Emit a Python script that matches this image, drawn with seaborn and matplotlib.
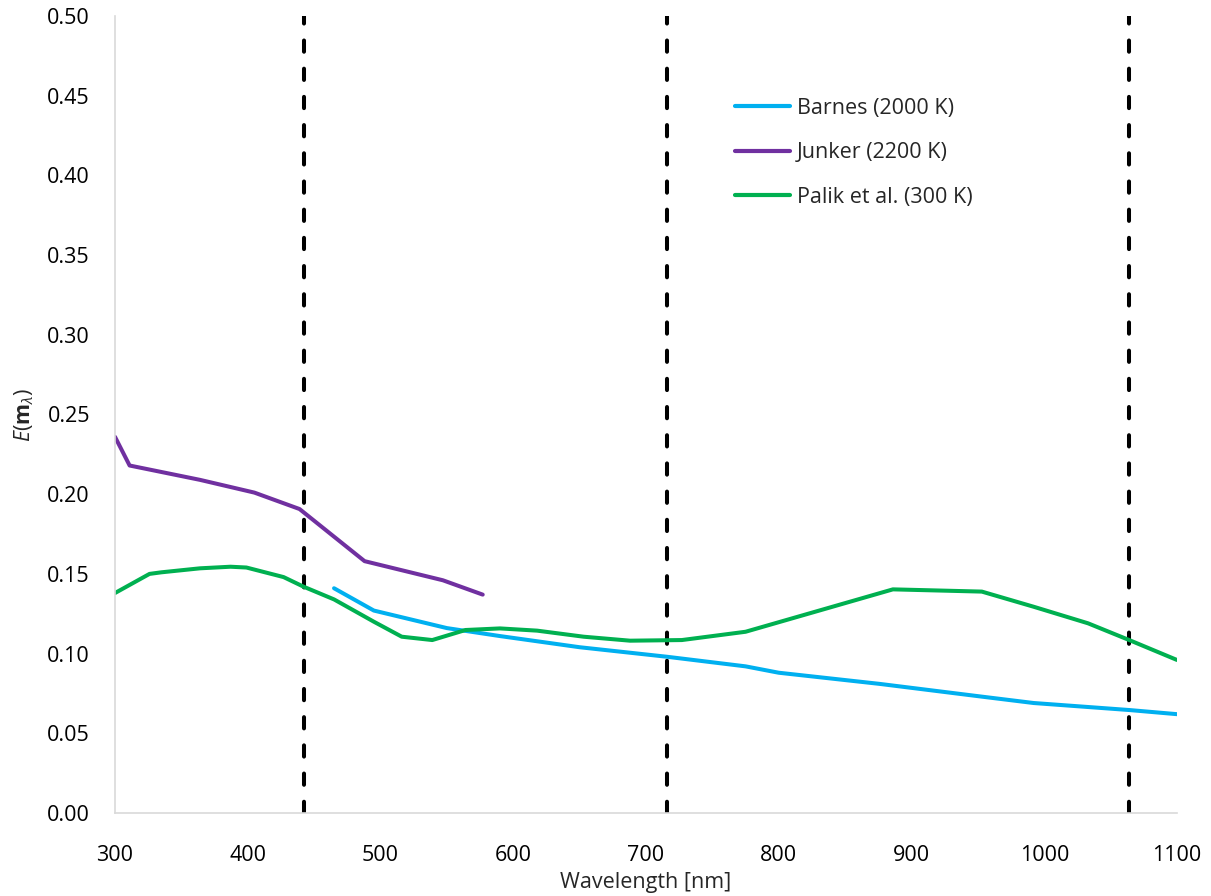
import numpy as np
import pandas as pd
import matplotlib
matplotlib.use("Agg")
import matplotlib.pyplot as plt
import seaborn as sns

# Absorption function E(m) versus wavelength for three refractive-index datasets
barnes_wl = [465, 495, 550, 590, 650, 716, 775, 800, 876, 953, 992, 1064, 1100]
barnes_e = [0.141, 0.127, 0.116, 0.111, 0.104, 0.098, 0.092, 0.088, 0.081, 0.073, 0.069, 0.0646, 0.062]

junker_wl = [300, 311, 364, 405, 439, 488, 547, 577]
junker_e = [0.236, 0.218, 0.209, 0.201, 0.1907, 0.158, 0.146, 0.137]

palik_wl = [300, 326, 335, 364, 387, 399, 427, 442, 465, 495, 516, 539, 564, 590,
            618, 653, 688, 727, 775, 886, 953, 992, 1033, 1064, 1100]
palik_e = [0.138, 0.150, 0.151, 0.1535, 0.1545, 0.154, 0.148, 0.142, 0.134, 0.120,
           0.1106, 0.1085, 0.1148, 0.1158, 0.1144, 0.1106, 0.1081, 0.1085, 0.1137,
           0.1403, 0.1389, 0.1294, 0.119, 0.1085, 0.096]

series_names = ["Barnes (2000 K)", "Junker (2200 K)", "Palik et al. (300 K)"]
laser_lines = [442, 716, 1064]

df = pd.concat([
    pd.DataFrame({"wl": barnes_wl, "E": barnes_e, "source": series_names[0]}),
    pd.DataFrame({"wl": junker_wl, "E": junker_e, "source": series_names[1]}),
    pd.DataFrame({"wl": palik_wl, "E": palik_e, "source": series_names[2]}),
], ignore_index=True)

sns.set_theme(style="white")
plt.rcParams["font.family"] = ["Open Sans", "DejaVu Sans"]
plt.rcParams["mathtext.fontset"] = "custom"
plt.rcParams["mathtext.rm"] = "Open Sans"
plt.rcParams["mathtext.it"] = "Open Sans:italic"
plt.rcParams["mathtext.bf"] = "Open Sans:bold"

FS = 15.5

fig = plt.figure(figsize=(12.11, 8.96), dpi=100)
ax = fig.add_axes([115 / 1211, 1 - 813 / 896, (1177 - 115) / 1211, (813 - 16) / 896])

palette = {series_names[0]: "#00B0F0", series_names[1]: "#7030A0", series_names[2]: "#00B050"}
sns.lineplot(data=df, x="wl", y="E", hue="source", hue_order=series_names,
             palette=palette, linewidth=2.9, sort=False, estimator=None,
             ax=ax, solid_capstyle="round")

for wl in laser_lines:
    ax.axvline(wl, color="black", linewidth=2.9, linestyle=(0, (2.8, 4.2)),
               dash_capstyle="round", zorder=1)

ax.set_xlim(300, 1100)
ax.set_ylim(0, 0.5)
ax.set_xticks(np.arange(300, 1101, 100))
ax.set_yticks(np.arange(0, 0.501, 0.05))
ax.set_yticklabels([f"{v:.2f}" for v in np.arange(0, 0.501, 0.05)])

for s in ["top", "right"]:
    ax.spines[s].set_visible(False)
for s in ["left", "bottom"]:
    ax.spines[s].set_color("#D9D9D9")
    ax.spines[s].set_linewidth(1.2)

ax.tick_params(axis="both", which="major", direction="out", length=6, width=1.2,
               color="#D9D9D9", labelsize=FS, labelcolor="black")
ax.tick_params(axis="x", pad=17)
ax.tick_params(axis="y", pad=12)

ax.set_xlabel("Wavelength [nm]", fontsize=FS, labelpad=4)
ax.set_ylabel(r"$E(\mathbf{m}_{\lambda})$", fontsize=FS, labelpad=8)

leg = ax.legend(loc="upper left", bbox_to_anchor=(0.566, 0.922), frameon=False,
                fontsize=FS, handlelength=2.55, handletextpad=0.3, labelspacing=1.1)
for line in leg.get_lines():
    line.set_linewidth(3.0)
    line.set_solid_capstyle("round")

fig.savefig("out.png", dpi=100)
